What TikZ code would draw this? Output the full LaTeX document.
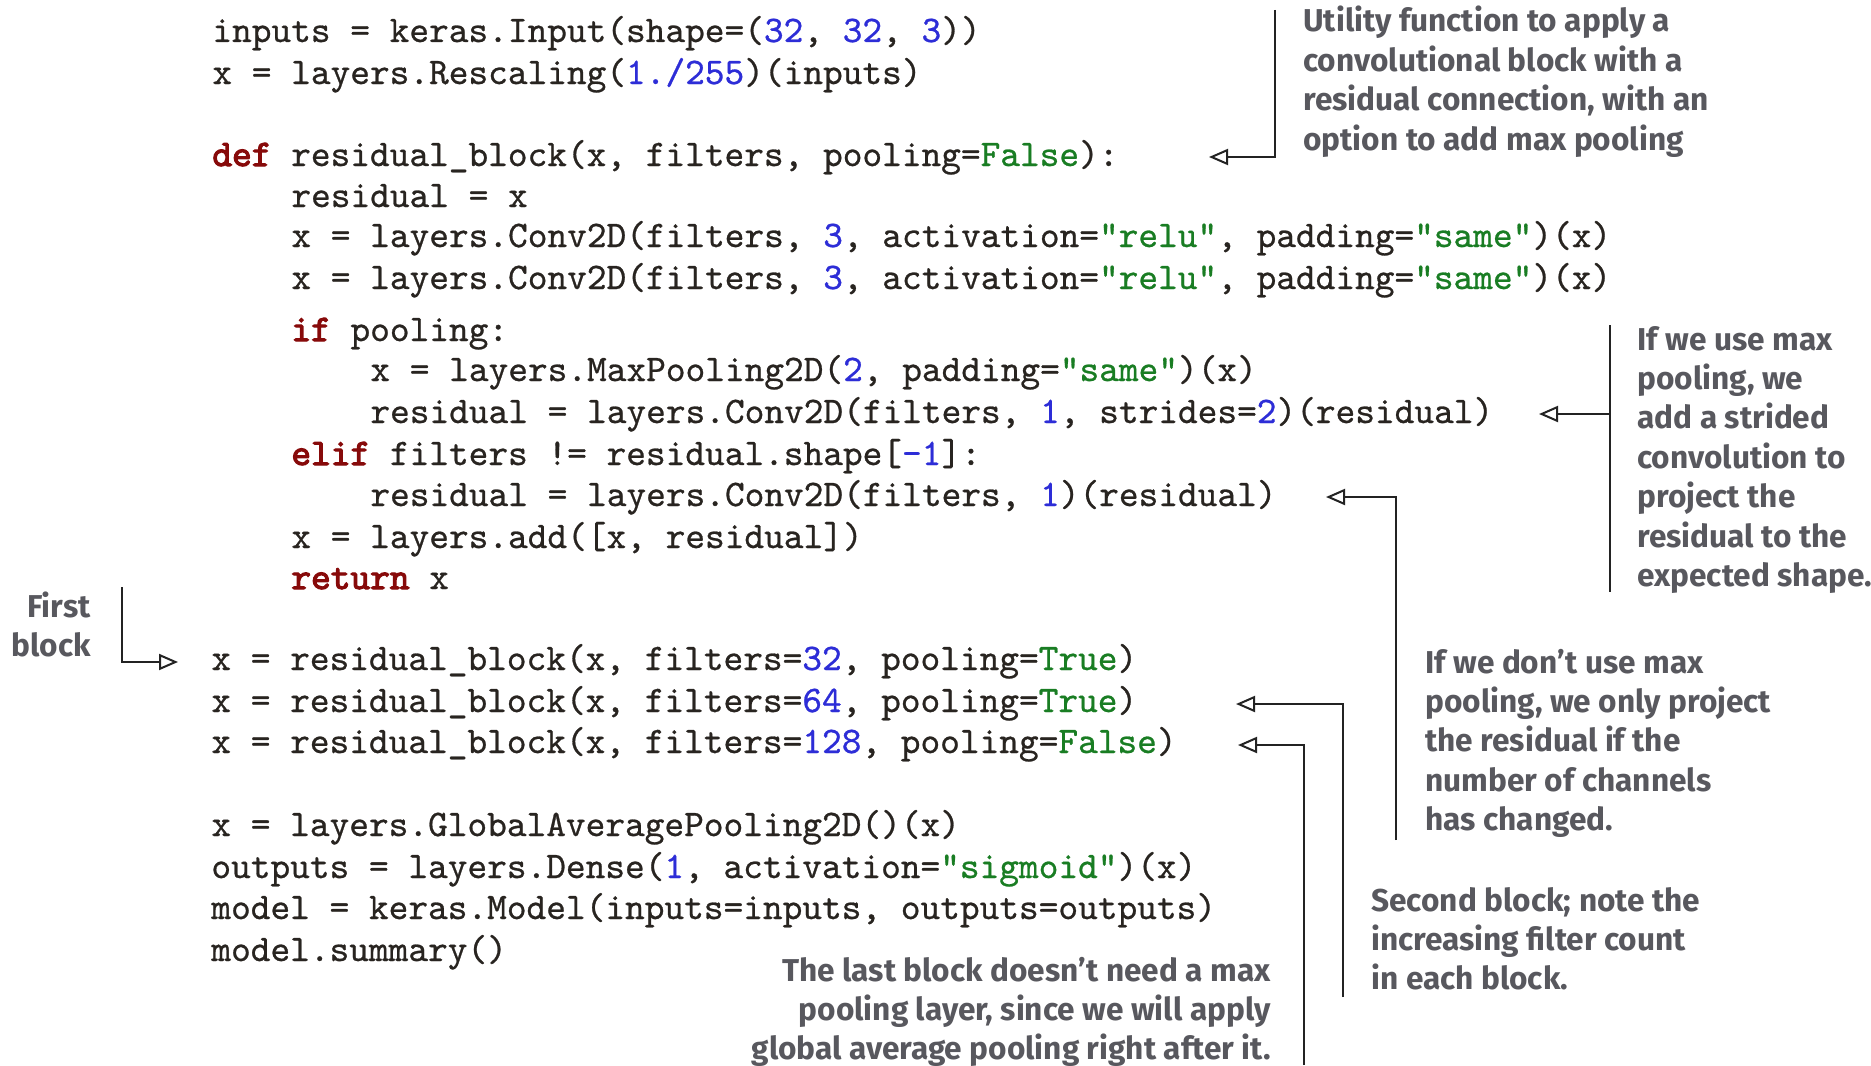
\documentclass[tikz,border=0pt]{standalone}
\usepackage{fontspec}
\usetikzlibrary{arrows.meta}

% fonts: slab-serif mono for the listing, bold humanist sans for the notes
\newfontfamily\codefont{lmmono10-regular.otf}[FakeBold=0.7]
\newfontfamily\codekwfont{lmmono10-regular.otf}[FakeBold=3]
\newfontfamily\notefont{Fira Sans}

\definecolor{codeink}{RGB}{40,36,32}
\definecolor{kwred}{RGB}{135,10,10}
\definecolor{numblue}{RGB}{45,45,215}
\definecolor{strgreen}{RGB}{25,125,35}
\definecolor{noteink}{RGB}{88,88,94}
\definecolor{lineink}{RGB}{35,35,35}

% syntax highlighting helpers
\newcommand\pykw[1]{{\codekwfont\color{kwred}#1}}
\newcommand\pynum[1]{{\color{numblue}#1}}
\newcommand\pystr[1]{{\color{strgreen}#1}}

\tikzset{
  codeline/.style={anchor=base west, inner sep=0pt,
    font=\codefont\fontsize{18.76}{22}\selectfont, text=codeink},
  note/.style={inner sep=0pt,
    font=\notefont\bfseries\fontsize{15.8}{19.7}\selectfont, text=noteink},
  conn/.style={draw=lineink, line width=1pt},
  pointer/.style={conn, -{Triangle[open, length=9.5pt, width=8pt]}},
}

\begin{document}
\begin{tikzpicture}[x={(0.5pt,0)}, y={(0,-0.5pt)}]
\fill[white] (0,0) rectangle (1871,1065);
\useasboundingbox (0,0) rectangle (1871,1065);

% ---- listing ----
\node[codeline] (c1)  at (212,42)  {inputs = keras.Input(shape=(\pynum{32}, \pynum{32}, \pynum{3}))};
\node[codeline] (c2)  at (212,84)  {x = layers.Rescaling(\pynum{1./255})(inputs)};
\node[codeline] (c3)  at (212,166) {\pykw{def} residual\_block(x, filters, pooling=\pystr{False}):};
\node[codeline] (c4)  at (291,207) {residual = x};
\node[codeline] (c5)  at (291,247) {x = layers.Conv2D(filters, \pynum{3}, activation=\pystr{"relu"}, padding=\pystr{"same"})(x)};
\node[codeline] (c6)  at (291,289) {x = layers.Conv2D(filters, \pynum{3}, activation=\pystr{"relu"}, padding=\pystr{"same"})(x)};
\node[codeline] (c7)  at (291,341) {\pykw{if} pooling:};
\node[codeline] (c8)  at (370,381) {x = layers.MaxPooling2D(\pynum{2}, padding=\pystr{"same"})(x)};
\node[codeline] (c9)  at (370,423) {residual = layers.Conv2D(filters, \pynum{1}, strides=\pynum{2})(residual)};
\node[codeline] (c10) at (291,465) {\pykw{elif} filters != residual.shape[\pynum{-1}]:};
\node[codeline] (c11) at (370,506) {residual = layers.Conv2D(filters, \pynum{1})(residual)};
\node[codeline] (c12) at (291,548) {x = layers.add([x, residual])};
\node[codeline] (c13) at (291,589) {\pykw{return} x};
\node[codeline] (c14) at (211,670) {x = residual\_block(x, filters=\pynum{32}, pooling=\pystr{True})};
\node[codeline] (c15) at (211,712) {x = residual\_block(x, filters=\pynum{64}, pooling=\pystr{True})};
\node[codeline] (c16) at (211,753) {x = residual\_block(x, filters=\pynum{128}, pooling=\pystr{False})};
\node[codeline] (c17) at (211,836) {x = layers.GlobalAveragePooling2D()(x)};
\node[codeline] (c18) at (211,878) {outputs = layers.Dense(\pynum{1}, activation=\pystr{"sigmoid"})(x)};
\node[codeline] (c19) at (211,919) {model = keras.Model(inputs=inputs, outputs=outputs)};
\node[codeline] (c20) at (211,961) {model.summary()};

% ---- notes ----
\node[note, anchor=base west] (nUtil) at (1303,32)
  {\begin{tabular}[t]{@{}l@{}}Utility function to apply a\\convolutional block with a\\residual connection, with an\\option to add max pooling\end{tabular}};
\node[note, anchor=base west] (nPool) at (1637,350)
  {\begin{tabular}[t]{@{}l@{}}If we use max\\pooling, we\\add a strided\\convolution to\\project the\\residual to the\\expected shape.\end{tabular}};
\node[note, anchor=base west] (nProj) at (1425,673)
  {\begin{tabular}[t]{@{}l@{}}If we don’t use max\\pooling, we only project\\the residual if the\\number of channels\\has changed.\end{tabular}};
\node[note, anchor=base west] (nSecond) at (1371,911)
  {\begin{tabular}[t]{@{}l@{}}Second block; note the\\increasing filter count\\in each block.\end{tabular}};
\node[note, anchor=base east] (nLast) at (1271,981)
  {\begin{tabular}[t]{@{}r@{}}The last block doesn’t need a max\\pooling layer, since we will apply\\global average pooling right after it.\end{tabular}};
\node[note, anchor=base east] (nFirst) at (91,617)
  {\begin{tabular}[t]{@{}r@{}}First\\block\end{tabular}};

% ---- callout brackets and pointers ----
\coordinate (uTop) at (1275,10);   \coordinate (uBend) at (1275,157); \coordinate (uTip) at (1209,157);
\coordinate (pTop) at (1610,325);  \coordinate (pBot) at (1610,592);
\coordinate (pJoin) at (1610,414); \coordinate (pTip) at (1539,414);
\coordinate (jBot) at (1396,840);  \coordinate (jBend) at (1396,497); \coordinate (jTip) at (1326,497);
\coordinate (sBot) at (1343,997);  \coordinate (sBend) at (1343,704); \coordinate (sTip) at (1236,704);
\coordinate (lBot) at (1304,1065); \coordinate (lBend) at (1304,745); \coordinate (lTip) at (1238,745);
\coordinate (fTop) at (122,587);   \coordinate (fBend) at (122,662);  \coordinate (fTip) at (178,662);

\draw[pointer] (uTop) -- (uBend) -- (uTip);
\draw[conn] (pTop) -- (pBot);
\draw[pointer] (pJoin) -- (pTip);
\draw[pointer] (jBot) -- (jBend) -- (jTip);
\draw[pointer] (sBot) -- (sBend) -- (sTip);
\draw[pointer] (lBot) -- (lBend) -- (lTip);
\draw[pointer] (fTop) -- (fBend) -- (fTip);
\end{tikzpicture}
\end{document}
